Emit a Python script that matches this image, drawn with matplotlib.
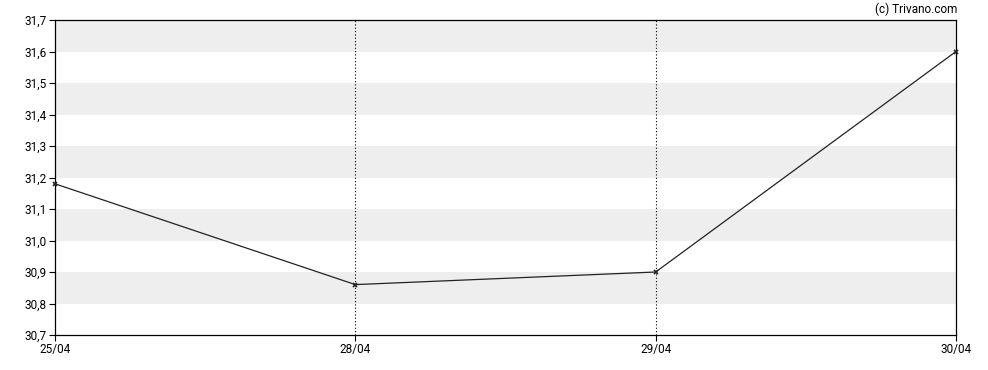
import matplotlib
matplotlib.use("Agg")
import matplotlib.pyplot as plt
from matplotlib.ticker import FixedLocator

dates = ["25/04", "28/04", "29/04", "30/04"]
values = [31.18, 30.86, 30.90, 31.60]
y_ticks = [30.7, 30.8, 30.9, 31.0, 31.1, 31.2, 31.3, 31.4, 31.5, 31.6, 31.7]
band_ranges = [(30.8, 30.9), (31.0, 31.1), (31.2, 31.3), (31.4, 31.5), (31.6, 31.7)]
vlines_at = ["28/04", "29/04"]

plt.rcParams['font.family'] = ['Roboto', 'DejaVu Sans']

fig = plt.figure(figsize=(9.88, 3.70), dpi=100)
ax = fig.add_axes([55/988, 1-335/370, (956-55)/988, (335-20)/370])

x = list(range(len(dates)))
for lo, hi in band_ranges:
    ax.axhspan(lo, hi, color="#eeeeee", lw=0, zorder=0)

for d in vlines_at:
    ax.axvline(dates.index(d), color="black", lw=0.8, ls=(0, (1, 2)), zorder=1)

ax.plot(x, values, color="#222222", lw=0.9, marker="x", ms=3.5, mew=1.2, zorder=3, clip_on=False)

ax.set_xlim(0, len(dates) - 1)
ax.set_ylim(30.7, 31.7)
ax.yaxis.set_major_locator(FixedLocator(y_ticks))
ax.set_yticklabels([f"{v:.1f}".replace(".", ",") for v in y_ticks])
ax.set_xticks(x)
ax.set_xticklabels(dates)
ax.tick_params(axis="both", labelsize=8.5, length=4, width=0.8, color="black", pad=2)
for s in ax.spines.values():
    s.set_linewidth(0.9)
    s.set_color("black")

fig.text(957/988, 1-9/370, "(c) Trivano.com", ha="right", va="center", fontsize=8.5)

fig.savefig("out.png", dpi=100)
